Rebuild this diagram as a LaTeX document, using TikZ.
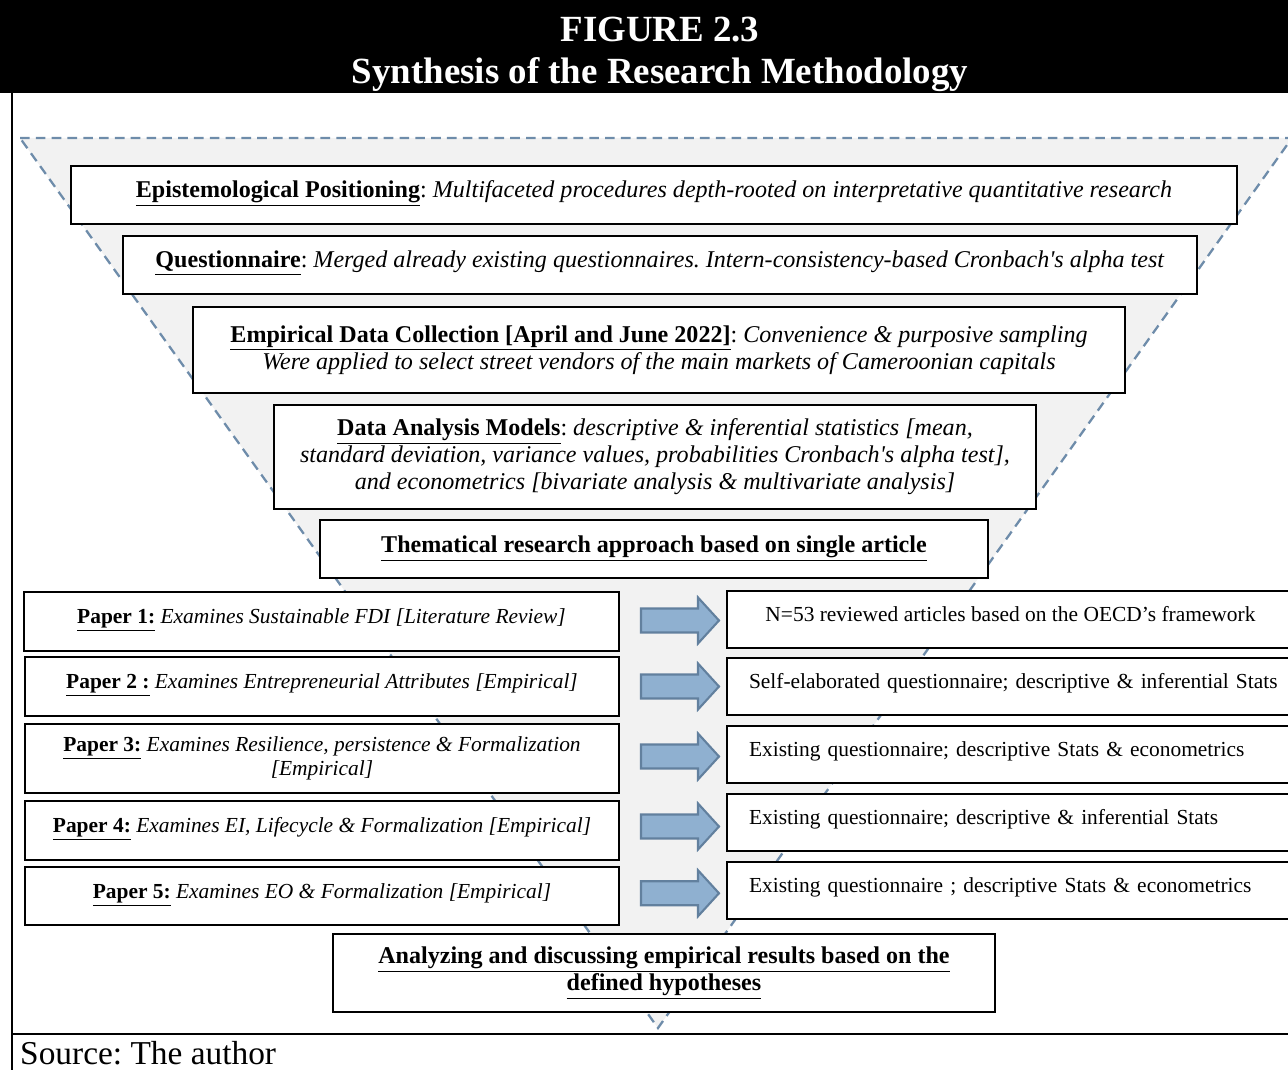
\documentclass[tikz,border=0pt]{standalone}
\usepackage{fontspec}
\setmainfont{Liberation Serif}
\usetikzlibrary{calc}
\frenchspacing
\definecolor{funnelgray}{RGB}{242,242,242}
\definecolor{funnelblue}{RGB}{110,140,170}
\definecolor{arrowfill}{RGB}{143,176,208}
\definecolor{arrowline}{RGB}{98,128,158}
\tikzset{
  titletext/.style={text=white, font=\fontsize{21}{24}\selectfont\bfseries},
  sz/.style 2 args={minimum width=#1*0.02cm, minimum height=#2*0.02cm},
  box/.style={draw=black, fill=white, line width=0.8pt, inner sep=0pt, align=center,
    font=\fontsize{13.7}{15.4}\selectfont},
  raised/.style={text height=10pt, text depth=6.6pt},
  paperbox/.style={box, font=\fontsize{12.2}{13.8}\selectfont},
  rowbox/.style={paperbox, text height=9pt, text depth=6.7pt},
  leftbox/.style={rowbox, text width=10.46cm, align=left},
  blockarrow/.style={fill=arrowfill, draw=arrowline, line width=1.2pt},
}
\newcommand{\lbl}[1]{\underline{\textbf{#1}}}
\begin{document}
\begin{tikzpicture}[x=0.02cm, y=-0.02cm]
\useasboundingbox (0,0) rectangle (1288,1070);
\clip (0,0) rectangle (1288,1070);
\fill[black] (0,0) rectangle (1288,93);
\node[titletext, anchor=base] (fig) at (660,42) {FIGURE 2.3};
\node[titletext, anchor=base] (title) at (660,84) {Synthesis of the Research Methodology};
\draw[line width=1.4pt] (12,93) -- (12,1070) (12,1034) -- (1288,1034);
\filldraw[fill=funnelgray, draw=funnelblue, line width=1.3pt, dash pattern=on 5.5pt off 3.5pt]
(20,138) -- (1292,138) -- (658,1028) -- cycle;
\node[box, raised, sz={1166}{58}] (epist) at (654,195) {\lbl{Epistemological Positioning}: \textit{Multifaceted procedures depth-rooted on interpretative quantitative research}};
\node[box, raised, sz={1074}{58}] (quest) at (660,265) {\lbl{Questionnaire}: \textit{Merged already existing questionnaires. Intern-consistency-based Cronbach\textquotesingle s alpha test}};
\node[box, sz={932}{86}] (collect) at (659,350) {\lbl{Empirical Data Collection [April and June 2022]}: \textit{Convenience \& purposive sampling}\\
\textit{Were applied to select street vendors of the main markets of Cameroonian capitals}};
\node[box, sz={762}{104}] (models) at (655,457) {\lbl{Data Analysis Models}: \textit{descriptive \& inferential statistics [mean,}\\
\textit{standard deviation, variance values, probabilities Cronbach\textquotesingle s alpha test],}\\
\textit{and econometrics [bivariate analysis \& multivariate analysis]}};
\node[box, sz={668}{58}] (approach) at (654,549) {\lbl{Thematical research approach based on single article}};
\node[rowbox, sz={595}{59}] (p1) at (321.5,621.5) {\lbl{Paper 1:} \textit{Examines Sustainable FDI [Literature Review]}};
\node[rowbox, sz={594}{59}] (p2) at (322,686.5) {\lbl{Paper 2 :} \textit{Examines Entrepreneurial Attributes [Empirical]}};
\node[paperbox, sz={594}{69}] (p3) at (322,758.5) {\lbl{Paper 3:} \textit{Examines Resilience, persistence \& Formalization}\\\textit{[Empirical]}};
\node[rowbox, sz={594}{59}] (p4) at (322,830.5) {\lbl{Paper 4:} \textit{Examines EI, Lifecycle \& Formalization [Empirical]}};
\node[rowbox, sz={594}{58}] (p5) at (322,896) {\lbl{Paper 5:} \textit{Examines EO \& Formalization [Empirical]}};
\node[rowbox, sz={567}{57}] (r1) at (1010.5,619.5) {N=53 reviewed articles based on the OECD’s framework};
\node[leftbox, sz={567}{57}] (r2) at (1010.5,686.5) {\mbox{Self-elaborated questionnaire; descriptive \& inferential Stats}};
\node[leftbox, sz={567}{57}] (r3) at (1010.5,754.5) {\mbox{Existing questionnaire; descriptive Stats \& econometrics}};
\node[leftbox, sz={567}{57}] (r4) at (1010.5,822.5) {\mbox{Existing questionnaire; descriptive \& inferential Stats}};
\node[leftbox, sz={567}{57}] (r5) at (1010.5,890.5) {\mbox{Existing questionnaire ; descriptive Stats \& econometrics}};
\foreach \i in {1,...,5}{
\coordinate (t\i) at ($(p\i.east)!0.5!(r\i.west)+(-32,0)$);
\draw[blockarrow, shift={(t\i)}] (0,-12) -- (57,-12) -- (57,-23) -- (78,0) -- (57,23) -- (57,12) -- (0,12) -- cycle;
}
\node[box, sz={662}{78}] (results) at (664,973) {\lbl{Analyzing and discussing empirical results based on the}\\\lbl{defined hypotheses}};
\node[anchor=base west, font=\fontsize{19}{22}\selectfont] (source) at (14,1064) {Source: The author};
\end{tikzpicture}
\end{document}
